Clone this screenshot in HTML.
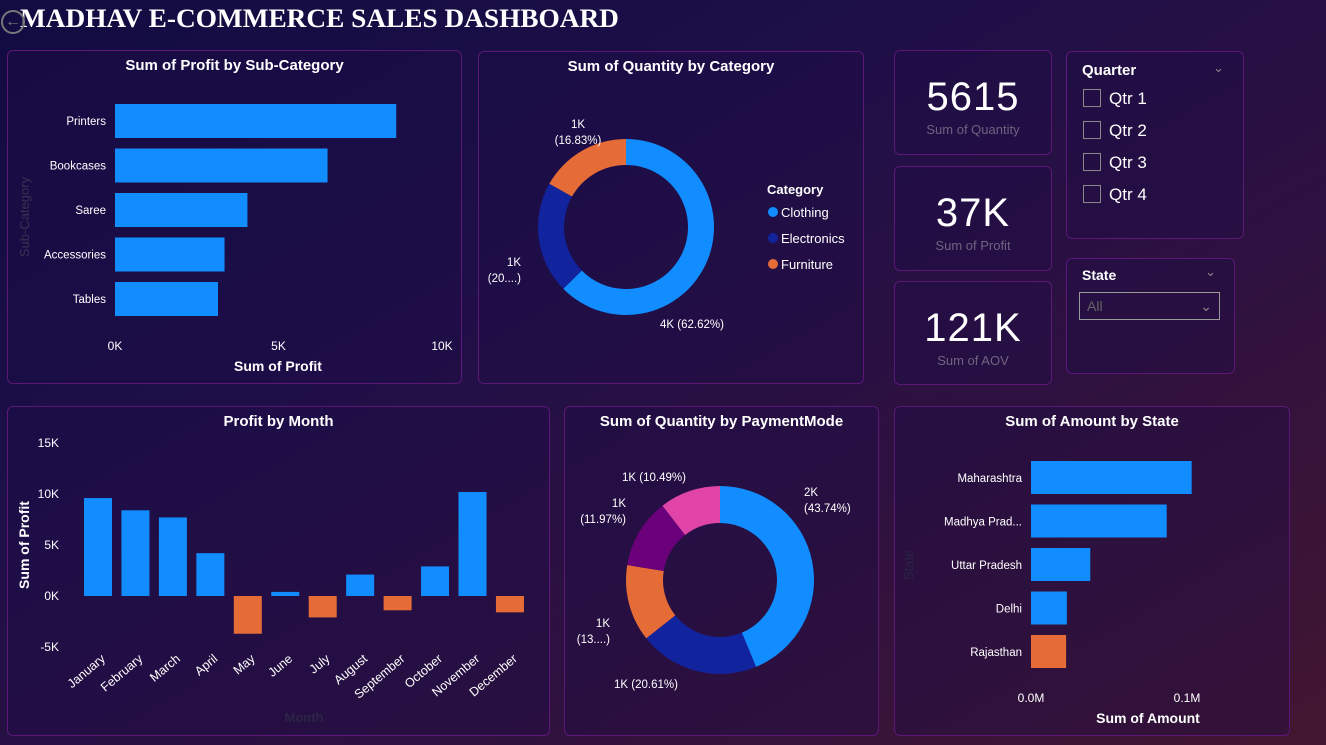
<!DOCTYPE html>
<html><head><meta charset="utf-8"><style>
*{margin:0;padding:0;box-sizing:border-box}
body{width:1326px;height:745px;overflow:hidden;font-family:"Liberation Sans",sans-serif;background:linear-gradient(150deg,#110c42 0%,#1e0f48 35%,#2e1140 65%,#421630 100%);position:relative;color:#fff}
.card{position:absolute;border:1px solid #5c1778;border-radius:6px;background:rgba(30,12,70,0.35)}
.title{position:absolute;left:0;right:0;text-align:center;font-weight:bold;font-size:15px;color:#fff}
svg{position:absolute;left:0;top:0}
svg text{font-family:"Liberation Sans",sans-serif}
.kpi{text-align:center}
.kpi .v{font-size:40px;margin-top:24px;letter-spacing:1px}
.kpi .l{font-size:13px;color:#6e6380;margin-top:2px}
</style></head><body>
<div style="position:absolute;left:20px;top:4px;font-family:'Liberation Serif',serif;font-weight:bold;font-size:26px;color:#fff;transform-origin:0 0;transform:scaleX(1.05)">MADHAV E-COMMERCE SALES DASHBOARD</div>
<div style="position:absolute;left:1px;top:10px;width:24px;height:24px;border:2px solid #777;border-radius:50%;color:#777;font-size:16px;line-height:19px;text-align:center">←</div>

<div class="card" style="left:7px;top:50px;width:455px;height:334px"><div class="title" style="top:6px">Sum of Profit by Sub-Category</div></div>
<div class="card" style="left:478px;top:51px;width:386px;height:333px"><div class="title" style="top:6px">Sum of Quantity by Category</div></div>
<div class="card kpi" style="left:894px;top:50px;width:158px;height:105px"><div class="v">5615</div><div class="l">Sum of Quantity</div></div>
<div class="card kpi" style="left:894px;top:166px;width:158px;height:105px"><div class="v">37K</div><div class="l">Sum of Profit</div></div>
<div class="card kpi" style="left:894px;top:281px;width:158px;height:104px"><div class="v">121K</div><div class="l">Sum of AOV</div></div>
<div class="card" style="left:1066px;top:51px;width:178px;height:188px">
<div style="position:absolute;left:15px;top:10px;font-weight:bold;font-size:15px">Quarter</div>
<div style="position:absolute;left:146px;top:8px;color:#888;font-size:13px">&#8964;</div>
<div style="position:absolute;left:16px;top:31px;font-size:17px;line-height:32px">
<div><span style="display:inline-block;width:18px;height:18px;border:1px solid #888;vertical-align:-3px;margin-right:8px"></span>Qtr 1</div>
<div><span style="display:inline-block;width:18px;height:18px;border:1px solid #888;vertical-align:-3px;margin-right:8px"></span>Qtr 2</div>
<div><span style="display:inline-block;width:18px;height:18px;border:1px solid #888;vertical-align:-3px;margin-right:8px"></span>Qtr 3</div>
<div><span style="display:inline-block;width:18px;height:18px;border:1px solid #888;vertical-align:-3px;margin-right:8px"></span>Qtr 4</div></div></div>
<div class="card" style="left:1066px;top:258px;width:169px;height:116px">
<div style="position:absolute;left:15px;top:8px;font-weight:bold;font-size:14px">State</div>
<div style="position:absolute;left:138px;top:5px;color:#888;font-size:13px">&#8964;</div>
<div style="position:absolute;left:12px;top:33px;width:141px;height:28px;border:1px solid #999;color:#666;font-size:14px;padding:5px 7px">All<span style="float:right;color:#888">&#8964;</span></div></div>

<div class="card" style="left:7px;top:406px;width:543px;height:330px"><div class="title" style="top:6px">Profit by Month</div></div>
<div class="card" style="left:564px;top:406px;width:315px;height:330px"><div class="title" style="top:6px">Sum of Quantity by PaymentMode</div></div>
<div class="card" style="left:894px;top:406px;width:396px;height:330px"><div class="title" style="top:6px">Sum of Amount by State</div></div>

<svg id="s" width="1326" height="745"></svg>
<script>
const subCats=["Printers","Bookcases","Saree","Accessories","Tables"];
const subProfit=[8.6,6.5,4.05,3.35,3.15];
const subTicks=[0,5,10];
const catNames=["Clothing","Electronics","Furniture"];
const catPct=[62.62,20.55,16.83];
const catLabels=["4K (62.62%)","1K\n(20....)","1K\n(16.83%)"];
const months=["January","February","March","April","May","June","July","August","September","October","November","December"];
const monthProfit=[9.6,8.4,7.7,4.2,-3.7,0.4,-2.1,2.1,-1.4,2.9,10.2,-1.6];
const monthTicks=[-5,0,5,10,15];
const payPct=[43.74,20.61,13.19,11.97,10.49];
const payLabels=["2K\n(43.74%)","1K (20.61%)","1K\n(13....)","1K\n(11.97%)","1K (10.49%)"];
const states=["Maharashtra","Madhya Prad...","Uttar Pradesh","Delhi","Rajasthan"];
const stateAmt=[0.103,0.087,0.038,0.023,0.0225];
const stateTicks=[0,0.1];

const S=document.getElementById('s'),NS="http://www.w3.org/2000/svg";
const BLUE="#118dff",DB="#12239e",OR="#e66c37",PU="#6b007b",PK="#e044a7";
function el(t,a,txt){const e=document.createElementNS(NS,t);for(const k in a)e.setAttribute(k,a[k]);if(txt!==undefined)e.textContent=txt;S.appendChild(e);return e;}
function txt(x,y,s,o){return el('text',Object.assign({x:x,y:y,fill:'#fff','font-size':12},o||{}),s);}

const sx=v=>115+v*32.7;
subCats.forEach((c,i)=>{const y=104+i*44.5;
const r=el('rect',{x:sx(0),y:y,width:sx(subProfit[i])-sx(0),height:34,fill:BLUE});

txt(106,y+21,c,{'text-anchor':'end','font-size':11.5});});
subTicks.forEach(t=>txt(sx(t),350,t+'K',{'text-anchor':'middle'}));
txt(278,371,'Sum of Profit',{'text-anchor':'middle','font-weight':'bold','font-size':14});
txt(0,0,'Sub-Category',{transform:'translate(29,217) rotate(-90)','text-anchor':'middle',fill:'#3a3050','font-size':13});

function donut(cx,cy,R,r,vals,cols,names,labels,lpos){
let a=0;vals.forEach((v,i)=>{const a0=a/100*2*Math.PI,a1=(a+v)/100*2*Math.PI;a+=v;
const p=(rad,ang)=>[cx+rad*Math.sin(ang),cy-rad*Math.cos(ang)];
const lg=(a1-a0)>Math.PI?1:0;const [x0,y0]=p(R,a0),[x1,y1]=p(R,a1),[x2,y2]=p(r,a1),[x3,y3]=p(r,a0);
const e=el('path',{d:`M${x0},${y0}A${R},${R} 0 ${lg} 1 ${x1},${y1}L${x2},${y2}A${r},${r} 0 ${lg} 0 ${x3},${y3}Z`,fill:cols[i]});

const [lx,ly,anc]=lpos[i];labels[i].split('\n').forEach((s,j)=>txt(lx,ly+j*16,s,{'text-anchor':anc,'font-size':11.5}));});}
donut(626,227,88,62,catPct,[BLUE,DB,OR],catNames.map(s=>s.toLowerCase()),catLabels,[[660,328,'start'],[521,266,'end'],[578,128,'middle']]);
txt(767,194,'Category',{'font-weight':'bold','font-size':13});
catNames.forEach((c,i)=>{el('circle',{cx:773,cy:212+i*26,r:5,fill:[BLUE,DB,OR][i]});txt(781,217+i*26,c,{'font-size':13});});

const my=v=>596-v*10.2;
monthTicks.forEach(t=>txt(59,my(t)+4,t+'K',{'text-anchor':'end'}));
months.forEach((m,i)=>{const cx=98+i*37.45,v=monthProfit[i];
const r=el('rect',{x:cx-14,y:Math.min(my(v),my(0)),width:28,height:Math.abs(my(v)-my(0)),fill:v>=0?BLUE:OR});

txt(0,0,m,{transform:`translate(${cx+8},${660}) rotate(-40)`,'text-anchor':'end','font-size':12.5});});
txt(0,0,'Sum of Profit',{transform:'translate(29,545) rotate(-90)','text-anchor':'middle','font-weight':'bold','font-size':14});
txt(304,722,'Month',{'text-anchor':'middle',fill:'#2a2545','font-size':13,'font-weight':'bold'});

donut(720,580,94,57,payPct,[BLUE,DB,OR,PU,PK],['p1','p2','p3','p4','p5'],payLabels,[[804,496,'start'],[646,688,'middle'],[610,627,'end'],[626,507,'end'],[622,481,'start']]);

const ax=v=>1031+v*1560;
states.forEach((s,i)=>{const y=461+i*43.5;
const r=el('rect',{x:ax(0),y:y,width:ax(stateAmt[i])-ax(0),height:33,fill:i==4?OR:BLUE});

txt(1022,y+21,s,{'text-anchor':'end','font-size':11.5});});
stateTicks.forEach(t=>txt(ax(t),702,t.toFixed(1)+'M',{'text-anchor':'middle'}));
txt(1148,723,'Sum of Amount',{'text-anchor':'middle','font-weight':'bold','font-size':14});
txt(0,0,'State',{transform:'translate(913,565) rotate(-90)','text-anchor':'middle',fill:'#2a2545','font-size':13});
</script>
</body></html>
